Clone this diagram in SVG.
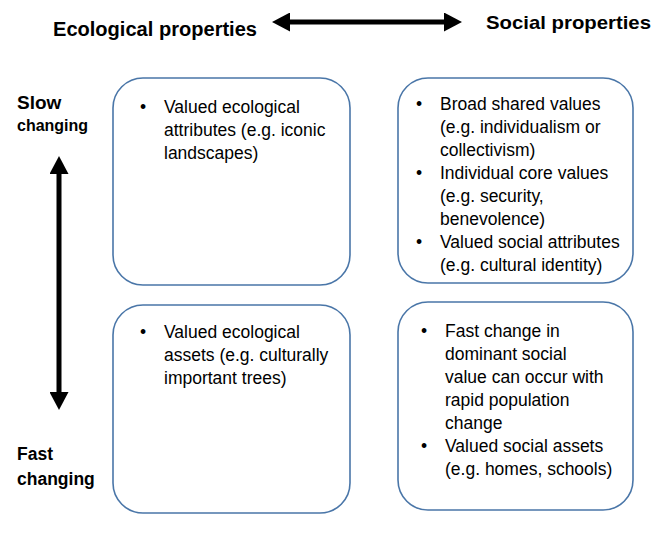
<svg xmlns="http://www.w3.org/2000/svg" width="654" height="542" viewBox="0 0 654 542">
<style>
.box{fill:#fff;stroke:#4a76a8;stroke-width:1.6}
.t{font-family:"Liberation Sans",Arial,sans-serif;font-size:17.5px;fill:#000}
.h{font-family:"Liberation Sans",Arial,sans-serif;font-weight:bold;fill:#000}
.c{stroke:#000;stroke-width:5;fill:none}
</style>
<defs>
<marker id="ah" viewBox="0 0 18 19" refX="0" refY="9.5" markerWidth="18" markerHeight="19" markerUnits="userSpaceOnUse" orient="auto-start-reverse">
<path d="M0,0 L18,9.5 L0,19 z" fill="#000"/>
</marker>
</defs>
<rect width="654" height="542" fill="#fff"/>
<g id="header-ecological"><text class="h" x="53" y="36" font-size="20px" textLength="204" lengthAdjust="spacingAndGlyphs">Ecological properties</text></g>
<g id="header-social"><text class="h" x="486" y="29" font-size="19px" textLength="165" lengthAdjust="spacingAndGlyphs">Social properties</text></g>
<g id="label-slow"><text class="h" x="17" y="109" font-size="19px">Slow</text><text class="h" x="17" y="131" font-size="16px">changing</text></g>
<g id="label-fast"><text class="h" x="17" y="460" font-size="17.5px">Fast</text><text class="h" x="17" y="485" font-size="17.5px">changing</text></g>
<g id="connectors">
<line class="c" x1="290" y1="22" x2="444" y2="22" marker-start="url(#ah)" marker-end="url(#ah)"/>
<line class="c" x1="59" y1="174" x2="59" y2="392" marker-start="url(#ah)" marker-end="url(#ah)"/>
</g>
<g id="box-eco-slow">
<rect class="box" x="113" y="78" width="237" height="207" rx="30"/>
<text class="t" x="140" y="113">•</text>
<text class="t" x="164" y="113">Valued ecological</text>
<text class="t" x="164" y="136">attributes (e.g. iconic</text>
<text class="t" x="164" y="159">landscapes)</text>
</g>
<g id="box-social-slow">
<rect class="box" x="398" y="78" width="235" height="205" rx="30"/>
<text class="t" x="416" y="110">•</text>
<text class="t" x="440" y="110">Broad shared values</text>
<text class="t" x="440" y="133">(e.g. individualism or</text>
<text class="t" x="440" y="156">collectivism)</text>
<text class="t" x="416" y="179">•</text>
<text class="t" x="440" y="179">Individual core values</text>
<text class="t" x="440" y="202">(e.g. security,</text>
<text class="t" x="440" y="225">benevolence)</text>
<text class="t" x="416" y="248">•</text>
<text class="t" x="440" y="248">Valued social attributes</text>
<text class="t" x="440" y="271">(e.g. cultural identity)</text>
</g>
<g id="box-eco-fast">
<rect class="box" x="113" y="305" width="237" height="208" rx="30"/>
<text class="t" x="140" y="338">•</text>
<text class="t" x="164" y="338">Valued ecological</text>
<text class="t" x="164" y="361">assets (e.g. culturally</text>
<text class="t" x="164" y="384">important trees)</text>
</g>
<g id="box-social-fast">
<rect class="box" x="398" y="302" width="235" height="208" rx="30"/>
<text class="t" x="421" y="337">•</text>
<text class="t" x="445" y="337">Fast change in</text>
<text class="t" x="445" y="360">dominant social</text>
<text class="t" x="445" y="383">value can occur with</text>
<text class="t" x="445" y="406">rapid population</text>
<text class="t" x="445" y="429">change</text>
<text class="t" x="421" y="452">•</text>
<text class="t" x="445" y="452">Valued social assets</text>
<text class="t" x="445" y="475">(e.g. homes, schools)</text>
</g>
</svg>
